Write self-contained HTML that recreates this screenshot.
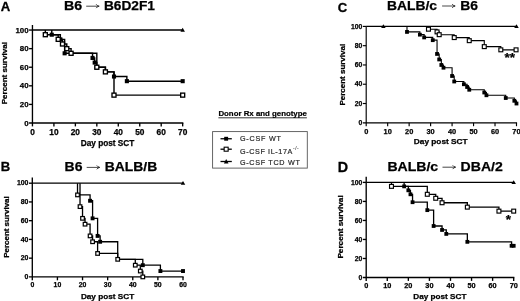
<!DOCTYPE html>
<html><head><meta charset="utf-8"><title>Survival curves</title>
<style>
html,body{margin:0;padding:0;background:#fff;}
body{width:520px;height:301px;overflow:hidden;font-family:"Liberation Sans", sans-serif;}
svg{display:block;}
text{font-family:"Liberation Sans", sans-serif;}
</style></head><body>
<svg width="520" height="301" viewBox="0 0 520 301" style="will-change:transform">
<defs><filter id="soft" x="0" y="0" width="520" height="301" filterUnits="userSpaceOnUse"><feGaussianBlur stdDeviation="0.38"/></filter></defs>
<rect width="520" height="301" fill="#fff"/>
<g filter="url(#soft)">
<g stroke="#000" stroke-width="1.35" fill="none" stroke-linecap="butt">
<path d="M32.45,25.00 V126.40"/>
<path d="M29.05,123.00 H183.35"/>
<path d="M29.05,104.41 H32.45"/>
<path d="M29.05,85.82 H32.45"/>
<path d="M29.05,67.23 H32.45"/>
<path d="M29.05,48.64 H32.45"/>
<path d="M29.05,30.05 H32.45"/>
<path d="M53.91,123.00 V126.40"/>
<path d="M75.37,123.00 V126.40"/>
<path d="M96.83,123.00 V126.40"/>
<path d="M118.29,123.00 V126.40"/>
<path d="M139.75,123.00 V126.40"/>
<path d="M161.21,123.00 V126.40"/>
<path d="M182.67,123.00 V126.40"/>
</g>
<g font-family='"Liberation Sans", sans-serif' font-weight="bold" font-size="7.9" fill="#000" stroke="#000" stroke-width="0.25">
<text x="28.55" y="125.53" text-anchor="end">0</text>
<text x="28.55" y="106.94" text-anchor="end">20</text>
<text x="28.55" y="88.35" text-anchor="end">40</text>
<text x="28.55" y="69.76" text-anchor="end">60</text>
<text x="28.55" y="51.17" text-anchor="end">80</text>
<text x="28.55" y="32.58" text-anchor="end">100</text>
<text x="32.45" y="134.50" font-size="8.3" text-anchor="middle">0</text>
<text x="53.91" y="134.50" font-size="8.3" text-anchor="middle">10</text>
<text x="75.37" y="134.50" font-size="8.3" text-anchor="middle">20</text>
<text x="96.83" y="134.50" font-size="8.3" text-anchor="middle">30</text>
<text x="118.29" y="134.50" font-size="8.3" text-anchor="middle">40</text>
<text x="139.75" y="134.50" font-size="8.3" text-anchor="middle">50</text>
<text x="161.21" y="134.50" font-size="8.3" text-anchor="middle">60</text>
<text x="182.67" y="134.50" font-size="8.3" text-anchor="middle">70</text>
</g>
<g stroke="#000" stroke-width="1.42" fill="none">
<path d="M32.45,30.05 H182.67"/>
<path d="M51.76,30.05 V34.70 H60.35 V39.34 H64.64 V53.29 H92.54 V57.94 H94.68 V62.58 H96.83 V67.23 H105.41 V71.88 H114.00 V76.53 H126.87 V81.17 H182.67"/>
<path d="M45.33,30.05 V34.70 H58.20 V39.34 H62.49 V43.99 H66.79 V48.64 H71.08 V53.29 H96.83 V67.23 H105.41 V71.88 H114.00 V95.12 H182.67"/>
</g>
<rect x="49.71" y="32.65" width="4.1" height="4.1" fill="#000"/>
<rect x="58.30" y="37.30" width="4.1" height="4.1" fill="#000"/>
<rect x="62.59" y="51.24" width="4.1" height="4.1" fill="#000"/>
<rect x="90.49" y="55.89" width="4.1" height="4.1" fill="#000"/>
<rect x="92.63" y="60.53" width="4.1" height="4.1" fill="#000"/>
<rect x="94.78" y="65.18" width="4.1" height="4.1" fill="#000"/>
<rect x="111.95" y="74.48" width="4.1" height="4.1" fill="#000"/>
<rect x="124.82" y="79.12" width="4.1" height="4.1" fill="#000"/>
<rect x="180.62" y="79.12" width="4.1" height="4.1" fill="#000"/>
<rect x="43.33" y="32.70" width="4.0" height="4.0" fill="#fff" stroke="#000" stroke-width="1.35"/>
<rect x="56.20" y="37.34" width="4.0" height="4.0" fill="#fff" stroke="#000" stroke-width="1.35"/>
<rect x="60.49" y="41.99" width="4.0" height="4.0" fill="#fff" stroke="#000" stroke-width="1.35"/>
<rect x="64.79" y="46.64" width="4.0" height="4.0" fill="#fff" stroke="#000" stroke-width="1.35"/>
<rect x="69.08" y="51.29" width="4.0" height="4.0" fill="#fff" stroke="#000" stroke-width="1.35"/>
<rect x="94.83" y="65.23" width="4.0" height="4.0" fill="#fff" stroke="#000" stroke-width="1.35"/>
<rect x="103.41" y="69.88" width="4.0" height="4.0" fill="#fff" stroke="#000" stroke-width="1.35"/>
<rect x="112.00" y="93.12" width="4.0" height="4.0" fill="#fff" stroke="#000" stroke-width="1.35"/>
<rect x="180.67" y="93.12" width="4.0" height="4.0" fill="#fff" stroke="#000" stroke-width="1.35"/>
<path d="M180.42,31.70 L184.92,31.70 L182.67,27.80 Z" fill="#000"/>
<g stroke="#000" stroke-width="1.35" fill="none" stroke-linecap="butt">
<path d="M32.30,177.60 V280.30"/>
<path d="M28.90,276.90 H183.68"/>
<path d="M28.90,258.16 H32.30"/>
<path d="M28.90,239.42 H32.30"/>
<path d="M28.90,220.68 H32.30"/>
<path d="M28.90,201.94 H32.30"/>
<path d="M28.90,183.20 H32.30"/>
<path d="M57.42,276.90 V280.30"/>
<path d="M82.53,276.90 V280.30"/>
<path d="M107.65,276.90 V280.30"/>
<path d="M132.77,276.90 V280.30"/>
<path d="M157.88,276.90 V280.30"/>
<path d="M183.00,276.90 V280.30"/>
</g>
<g font-family='"Liberation Sans", sans-serif' font-weight="bold" font-size="6.9" fill="#000" stroke="#000" stroke-width="0.25">
<text x="28.40" y="279.07" text-anchor="end">0</text>
<text x="28.40" y="260.33" text-anchor="end">20</text>
<text x="28.40" y="241.59" text-anchor="end">40</text>
<text x="28.40" y="222.85" text-anchor="end">60</text>
<text x="28.40" y="204.11" text-anchor="end">80</text>
<text x="28.40" y="185.37" text-anchor="end">100</text>
<text x="32.30" y="287.30" font-size="6.9" text-anchor="middle">0</text>
<text x="57.42" y="287.30" font-size="6.9" text-anchor="middle">10</text>
<text x="82.53" y="287.30" font-size="6.9" text-anchor="middle">20</text>
<text x="107.65" y="287.30" font-size="6.9" text-anchor="middle">30</text>
<text x="132.77" y="287.30" font-size="6.9" text-anchor="middle">40</text>
<text x="157.88" y="287.30" font-size="6.9" text-anchor="middle">50</text>
<text x="183.00" y="287.30" font-size="6.9" text-anchor="middle">60</text>
</g>
<g stroke="#000" stroke-width="1.3" fill="none">
<path d="M32.30,183.20 H183.00"/>
<path d="M80.02,183.20 V194.91 H90.07 V200.77 H92.58 V218.34 H97.60 V235.91 H100.12 V241.76 H117.70 V259.33 H142.81 V265.19 H160.40 V271.04 H183.00"/>
<path d="M77.51,183.20 V194.91 H80.02 V206.62 H82.53 V218.34 H85.05 V224.19 H90.07 V235.91 H92.58 V241.76 H97.60 V253.47 H117.70 V259.33 H135.28 V265.19 H140.30 V271.04 H142.81 V276.90"/>
</g>
<rect x="88.12" y="198.82" width="3.9" height="3.9" fill="#000"/>
<rect x="90.63" y="216.39" width="3.9" height="3.9" fill="#000"/>
<rect x="95.65" y="233.96" width="3.9" height="3.9" fill="#000"/>
<rect x="98.17" y="239.81" width="3.9" height="3.9" fill="#000"/>
<rect x="140.86" y="263.24" width="3.9" height="3.9" fill="#000"/>
<rect x="158.45" y="269.09" width="3.9" height="3.9" fill="#000"/>
<rect x="181.05" y="269.09" width="3.9" height="3.9" fill="#000"/>
<rect x="75.71" y="193.11" width="3.6" height="3.6" fill="#fff" stroke="#000" stroke-width="1.2"/>
<rect x="78.22" y="204.82" width="3.6" height="3.6" fill="#fff" stroke="#000" stroke-width="1.2"/>
<rect x="80.73" y="216.54" width="3.6" height="3.6" fill="#fff" stroke="#000" stroke-width="1.2"/>
<rect x="83.25" y="222.39" width="3.6" height="3.6" fill="#fff" stroke="#000" stroke-width="1.2"/>
<rect x="88.27" y="234.11" width="3.6" height="3.6" fill="#fff" stroke="#000" stroke-width="1.2"/>
<rect x="90.78" y="239.96" width="3.6" height="3.6" fill="#fff" stroke="#000" stroke-width="1.2"/>
<rect x="95.80" y="251.67" width="3.6" height="3.6" fill="#fff" stroke="#000" stroke-width="1.2"/>
<rect x="115.90" y="257.53" width="3.6" height="3.6" fill="#fff" stroke="#000" stroke-width="1.2"/>
<rect x="133.48" y="263.39" width="3.6" height="3.6" fill="#fff" stroke="#000" stroke-width="1.2"/>
<rect x="138.50" y="269.24" width="3.6" height="3.6" fill="#fff" stroke="#000" stroke-width="1.2"/>
<rect x="141.01" y="275.10" width="3.6" height="3.6" fill="#fff" stroke="#000" stroke-width="1.2"/>
<path d="M180.75,184.85 L185.25,184.85 L183.00,180.95 Z" fill="#000"/>
<g stroke="#000" stroke-width="1.15" fill="none" stroke-linecap="butt">
<path d="M366.20,26.30 V126.20"/>
<path d="M362.80,122.80 H517.07"/>
<path d="M362.80,103.52 H366.20"/>
<path d="M362.80,84.24 H366.20"/>
<path d="M362.80,64.96 H366.20"/>
<path d="M362.80,45.68 H366.20"/>
<path d="M362.80,26.40 H366.20"/>
<path d="M387.67,122.80 V126.20"/>
<path d="M409.14,122.80 V126.20"/>
<path d="M430.61,122.80 V126.20"/>
<path d="M452.08,122.80 V126.20"/>
<path d="M473.55,122.80 V126.20"/>
<path d="M495.02,122.80 V126.20"/>
<path d="M516.49,122.80 V126.20"/>
</g>
<g font-family='"Liberation Sans", sans-serif' font-weight="bold" font-size="6.8" fill="#000" stroke="#000" stroke-width="0.25">
<text x="362.30" y="124.93" text-anchor="end">0</text>
<text x="362.30" y="105.65" text-anchor="end">20</text>
<text x="362.30" y="86.37" text-anchor="end">40</text>
<text x="362.30" y="67.09" text-anchor="end">60</text>
<text x="362.30" y="47.81" text-anchor="end">80</text>
<text x="362.30" y="28.53" text-anchor="end">100</text>
<text x="366.20" y="133.50" font-size="7.4" text-anchor="middle">0</text>
<text x="387.67" y="133.50" font-size="7.4" text-anchor="middle">10</text>
<text x="409.14" y="133.50" font-size="7.4" text-anchor="middle">20</text>
<text x="430.61" y="133.50" font-size="7.4" text-anchor="middle">30</text>
<text x="452.08" y="133.50" font-size="7.4" text-anchor="middle">40</text>
<text x="473.55" y="133.50" font-size="7.4" text-anchor="middle">50</text>
<text x="495.02" y="133.50" font-size="7.4" text-anchor="middle">60</text>
<text x="516.49" y="133.50" font-size="7.4" text-anchor="middle">70</text>
</g>
<g stroke="#000" stroke-width="1.1" fill="none">
<path d="M366.20,26.40 H516.49"/>
<path d="M406.99,26.40 V31.91 H419.88 V34.66 H424.17 V37.42 H432.76 V40.17 H437.05 V53.94 H439.20 V59.45 H441.34 V64.96 H443.49 V67.71 H452.08 V75.98 H454.23 V81.49 H463.89 V84.24 H467.11 V86.99 H469.26 V89.75 H484.28 V92.50 H486.43 V95.26 H505.75 V98.01 H514.34 V100.77 H516.49 V103.52"/>
<path d="M428.46,26.40 V29.20 H437.05 V31.89 H439.20 V34.69 H454.23 V37.58 H469.26 V40.67 H484.28 V46.64 H500.82 V49.83 H516.06"/>
</g>
<rect x="405.09" y="30.01" width="3.8" height="3.8" fill="#000"/>
<rect x="417.98" y="32.76" width="3.8" height="3.8" fill="#000"/>
<rect x="422.27" y="35.52" width="3.8" height="3.8" fill="#000"/>
<rect x="430.86" y="38.27" width="3.8" height="3.8" fill="#000"/>
<rect x="435.15" y="52.04" width="3.8" height="3.8" fill="#000"/>
<rect x="437.30" y="57.55" width="3.8" height="3.8" fill="#000"/>
<rect x="439.44" y="63.06" width="3.8" height="3.8" fill="#000"/>
<rect x="441.59" y="65.81" width="3.8" height="3.8" fill="#000"/>
<rect x="450.18" y="74.08" width="3.8" height="3.8" fill="#000"/>
<rect x="452.33" y="79.59" width="3.8" height="3.8" fill="#000"/>
<rect x="461.99" y="82.34" width="3.8" height="3.8" fill="#000"/>
<rect x="465.21" y="85.09" width="3.8" height="3.8" fill="#000"/>
<rect x="467.36" y="87.85" width="3.8" height="3.8" fill="#000"/>
<rect x="482.38" y="90.60" width="3.8" height="3.8" fill="#000"/>
<rect x="484.53" y="93.36" width="3.8" height="3.8" fill="#000"/>
<rect x="503.86" y="96.11" width="3.8" height="3.8" fill="#000"/>
<rect x="512.44" y="98.87" width="3.8" height="3.8" fill="#000"/>
<rect x="514.59" y="101.62" width="3.8" height="3.8" fill="#000"/>
<rect x="426.51" y="27.25" width="3.9" height="3.9" fill="#fff" stroke="#000" stroke-width="1.15"/>
<rect x="435.10" y="29.94" width="3.9" height="3.9" fill="#fff" stroke="#000" stroke-width="1.15"/>
<rect x="437.25" y="32.74" width="3.9" height="3.9" fill="#fff" stroke="#000" stroke-width="1.15"/>
<rect x="452.28" y="35.63" width="3.9" height="3.9" fill="#fff" stroke="#000" stroke-width="1.15"/>
<rect x="467.31" y="38.72" width="3.9" height="3.9" fill="#fff" stroke="#000" stroke-width="1.15"/>
<rect x="482.33" y="44.69" width="3.9" height="3.9" fill="#fff" stroke="#000" stroke-width="1.15"/>
<rect x="498.87" y="47.88" width="3.9" height="3.9" fill="#fff" stroke="#000" stroke-width="1.15"/>
<rect x="514.11" y="47.88" width="3.9" height="3.9" fill="#fff" stroke="#000" stroke-width="1.15"/>
<path d="M381.13,28.05 L385.63,28.05 L383.38,24.15 Z" fill="#000"/>
<path d="M514.24,28.05 L518.74,28.05 L516.49,24.15 Z" fill="#000"/>
<text x="509.7" y="62.3" font-weight="bold" font-size="13.5" text-anchor="middle" fill="#000" stroke="#000" stroke-width="0.25">**</text>
<g stroke="#000" stroke-width="1.35" fill="none" stroke-linecap="butt">
<path d="M366.20,176.80 V280.90"/>
<path d="M362.80,277.50 H514.37"/>
<path d="M362.80,258.48 H366.20"/>
<path d="M362.80,239.46 H366.20"/>
<path d="M362.80,220.44 H366.20"/>
<path d="M362.80,201.42 H366.20"/>
<path d="M362.80,182.40 H366.20"/>
<path d="M387.27,277.50 V280.90"/>
<path d="M408.34,277.50 V280.90"/>
<path d="M429.41,277.50 V280.90"/>
<path d="M450.48,277.50 V280.90"/>
<path d="M471.55,277.50 V280.90"/>
<path d="M492.62,277.50 V280.90"/>
<path d="M513.69,277.50 V280.90"/>
</g>
<g font-family='"Liberation Sans", sans-serif' font-weight="bold" font-size="6.8" fill="#000" stroke="#000" stroke-width="0.25">
<text x="362.30" y="279.63" text-anchor="end">0</text>
<text x="362.30" y="260.61" text-anchor="end">20</text>
<text x="362.30" y="241.59" text-anchor="end">40</text>
<text x="362.30" y="222.57" text-anchor="end">60</text>
<text x="362.30" y="203.55" text-anchor="end">80</text>
<text x="362.30" y="184.53" text-anchor="end">100</text>
<text x="366.20" y="288.20" font-size="7.3" text-anchor="middle">0</text>
<text x="387.27" y="288.20" font-size="7.3" text-anchor="middle">10</text>
<text x="408.34" y="288.20" font-size="7.3" text-anchor="middle">20</text>
<text x="429.41" y="288.20" font-size="7.3" text-anchor="middle">30</text>
<text x="450.48" y="288.20" font-size="7.3" text-anchor="middle">40</text>
<text x="471.55" y="288.20" font-size="7.3" text-anchor="middle">50</text>
<text x="492.62" y="288.20" font-size="7.3" text-anchor="middle">60</text>
<text x="513.69" y="288.20" font-size="7.3" text-anchor="middle">70</text>
</g>
<g stroke="#000" stroke-width="1.3" fill="none">
<path d="M366.20,182.40 H513.69"/>
<path d="M404.13,182.40 V186.36 H408.34 V190.32 H410.45 V194.29 H412.55 V202.21 H427.30 V210.14 H433.62 V225.99 H442.05 V229.95 H446.27 V233.91 H467.34 V241.84 H511.58 V245.80 H513.69"/>
<path d="M391.48,182.40 V186.39 H427.30 V194.29 H435.73 V198.28 H442.05 V202.75 H467.34 V207.13 H498.94 V211.12 H513.69"/>
</g>
<rect x="402.23" y="184.46" width="3.8" height="3.8" fill="#000"/>
<rect x="406.44" y="188.42" width="3.8" height="3.8" fill="#000"/>
<rect x="408.55" y="192.39" width="3.8" height="3.8" fill="#000"/>
<rect x="410.65" y="200.31" width="3.8" height="3.8" fill="#000"/>
<rect x="425.40" y="208.24" width="3.8" height="3.8" fill="#000"/>
<rect x="431.72" y="224.09" width="3.8" height="3.8" fill="#000"/>
<rect x="440.15" y="228.05" width="3.8" height="3.8" fill="#000"/>
<rect x="444.37" y="232.01" width="3.8" height="3.8" fill="#000"/>
<rect x="465.44" y="239.94" width="3.8" height="3.8" fill="#000"/>
<rect x="509.68" y="243.90" width="3.8" height="3.8" fill="#000"/>
<rect x="511.79" y="243.90" width="3.8" height="3.8" fill="#000"/>
<rect x="389.53" y="184.44" width="3.9" height="3.9" fill="#fff" stroke="#000" stroke-width="1.15"/>
<rect x="425.35" y="192.34" width="3.9" height="3.9" fill="#fff" stroke="#000" stroke-width="1.15"/>
<rect x="433.78" y="196.33" width="3.9" height="3.9" fill="#fff" stroke="#000" stroke-width="1.15"/>
<rect x="440.10" y="200.80" width="3.9" height="3.9" fill="#fff" stroke="#000" stroke-width="1.15"/>
<rect x="465.39" y="205.18" width="3.9" height="3.9" fill="#fff" stroke="#000" stroke-width="1.15"/>
<rect x="496.99" y="209.17" width="3.9" height="3.9" fill="#fff" stroke="#000" stroke-width="1.15"/>
<rect x="511.74" y="209.17" width="3.9" height="3.9" fill="#fff" stroke="#000" stroke-width="1.15"/>
<path d="M511.44,184.05 L515.94,184.05 L513.69,180.15 Z" fill="#000"/>
<text x="508.4" y="224.1" font-weight="bold" font-size="13.5" text-anchor="middle" fill="#000" stroke="#000" stroke-width="0.25">*</text>
<g font-weight="bold" font-size="13.1" fill="#000" stroke="#000" stroke-width="0.3">
<text x="0.8" y="10.7">A</text>
<text x="0.7" y="171.3">B</text>
<text x="337.7" y="12.2">C</text>
<text x="337.7" y="172.4" font-size="14.3">D</text>
</g>
<text x="64.00" y="10.20" textLength="18.20" lengthAdjust="spacingAndGlyphs" font-weight="bold" font-size="12.7" fill="#000" stroke="#000" stroke-width="0.25">B6</text>
<path d="M86.20,6.20 H98.60" stroke="#333" stroke-width="0.9" fill="none"/>
<path d="M96.20,4.30 Q97.20,5.90 99.20,6.20 Q97.20,6.50 96.20,8.10" stroke="#222" stroke-width="0.9" fill="none"/>
<text x="103.90" y="10.20" textLength="51.10" lengthAdjust="spacingAndGlyphs" font-weight="bold" font-size="12.7" fill="#000" stroke="#000" stroke-width="0.25">B6D2F1</text>
<text x="64.60" y="171.40" textLength="17.90" lengthAdjust="spacingAndGlyphs" font-weight="bold" font-size="12.7" fill="#000" stroke="#000" stroke-width="0.25">B6</text>
<path d="M86.70,167.40 H99.20" stroke="#333" stroke-width="0.9" fill="none"/>
<path d="M96.80,165.50 Q97.80,167.10 99.80,167.40 Q97.80,167.70 96.80,169.30" stroke="#222" stroke-width="0.9" fill="none"/>
<text x="104.70" y="171.40" textLength="52.50" lengthAdjust="spacingAndGlyphs" font-weight="bold" font-size="12.7" fill="#000" stroke="#000" stroke-width="0.25">BALB/B</text>
<text x="386.90" y="10.00" textLength="50.10" lengthAdjust="spacingAndGlyphs" font-weight="bold" font-size="12.7" fill="#000" stroke="#000" stroke-width="0.25">BALB/c</text>
<path d="M442.10,6.00 H454.60" stroke="#333" stroke-width="0.9" fill="none"/>
<path d="M452.20,4.10 Q453.20,5.70 455.20,6.00 Q453.20,6.30 452.20,7.90" stroke="#222" stroke-width="0.9" fill="none"/>
<text x="460.20" y="10.00" textLength="17.80" lengthAdjust="spacingAndGlyphs" font-weight="bold" font-size="12.7" fill="#000" stroke="#000" stroke-width="0.25">B6</text>
<text x="387.40" y="171.20" textLength="50.80" lengthAdjust="spacingAndGlyphs" font-weight="bold" font-size="12.7" fill="#000" stroke="#000" stroke-width="0.25">BALB/c</text>
<path d="M442.50,167.20 H455.10" stroke="#333" stroke-width="0.9" fill="none"/>
<path d="M452.70,165.30 Q453.70,166.90 455.70,167.20 Q453.70,167.50 452.70,169.10" stroke="#222" stroke-width="0.9" fill="none"/>
<text x="460.60" y="171.20" textLength="42.20" lengthAdjust="spacingAndGlyphs" font-weight="bold" font-size="12.7" fill="#000" stroke="#000" stroke-width="0.25">DBA/2</text>
<text x="80.70" y="145.50" textLength="53.70" lengthAdjust="spacingAndGlyphs" font-weight="bold" font-size="8.4" fill="#000" stroke="#000" stroke-width="0.25">Day post SCT</text>
<text transform="translate(7.10,104.30) rotate(-90)" x="0" y="0" textLength="62.20" lengthAdjust="spacingAndGlyphs" font-weight="bold" font-size="7.6" fill="#000" stroke="#000" stroke-width="0.25">Percent survival</text>
<text x="80.90" y="298.60" textLength="53.30" lengthAdjust="spacingAndGlyphs" font-weight="bold" font-size="7.6" fill="#000" stroke="#000" stroke-width="0.25">Day post SCT</text>
<text transform="translate(8.90,257.80) rotate(-90)" x="0" y="0" textLength="61.50" lengthAdjust="spacingAndGlyphs" font-weight="bold" font-size="7.4" fill="#000" stroke="#000" stroke-width="0.25">Percent survival</text>
<text x="413.80" y="144.10" textLength="53.80" lengthAdjust="spacingAndGlyphs" font-weight="bold" font-size="7.4" fill="#000" stroke="#000" stroke-width="0.25">Day post SCT</text>
<text transform="translate(344.90,105.50) rotate(-90)" x="0" y="0" textLength="61.60" lengthAdjust="spacingAndGlyphs" font-weight="bold" font-size="7.4" fill="#000" stroke="#000" stroke-width="0.25">Percent survival</text>
<text x="413.30" y="299.10" textLength="53.10" lengthAdjust="spacingAndGlyphs" font-weight="bold" font-size="7.5" fill="#000" stroke="#000" stroke-width="0.25">Day post SCT</text>
<text transform="translate(343.20,258.60) rotate(-90)" x="0" y="0" textLength="63.30" lengthAdjust="spacingAndGlyphs" font-weight="bold" font-size="7.3" fill="#000" stroke="#000" stroke-width="0.25">Percent survival</text>
<text x="218.4" y="116.4" textLength="88.5" lengthAdjust="spacingAndGlyphs" font-weight="bold" font-size="7.4" fill="#000" stroke="#000" stroke-width="0.2">Donor Rx and genotype</text>
<path d="M218.4,117.8 H306.9" stroke="#000" stroke-width="0.8"/>
<rect x="212.6" y="131.6" width="94.7" height="36.5" fill="#fff" stroke="#555" stroke-width="0.9"/>
<g stroke="#000" stroke-width="1.3">
<path d="M220.5,138.75 H231.8"/>
<path d="M220.5,149.2 H231.8"/>
<path d="M220.5,161.5 H231.8"/>
</g>
<rect x="224.2" y="136.8" width="3.9" height="3.9" fill="#000"/>
<rect x="224.15" y="147.2" width="4.0" height="4.0" fill="#fff" stroke="#000" stroke-width="1.1"/>
<path d="M223.9,163.4 L228.5,163.4 L226.2,159.0 Z" fill="#000"/>
<g font-size="8" fill="#262626" stroke="#262626" stroke-width="0.2">
<text transform="translate(240.0,141.0) scale(0.9,1)" x="0" y="0" textLength="45.56" lengthAdjust="spacing">G-CSF WT</text>
<text transform="translate(240.0,153.5) scale(0.9,1)" x="0" y="0" textLength="58.22" lengthAdjust="spacing">G-CSF IL-17A</text>
<text transform="translate(240.0,164.5) scale(0.9,1)" x="0" y="0" textLength="66.44" lengthAdjust="spacing">G-CSF TCD WT</text>
<text x="293.0" y="150.2" font-size="4.8" stroke-width="0.1" fill="#444" stroke="#444" textLength="5.6" lengthAdjust="spacing">-/-</text>
</g>
</g>
</svg>
</body></html>
